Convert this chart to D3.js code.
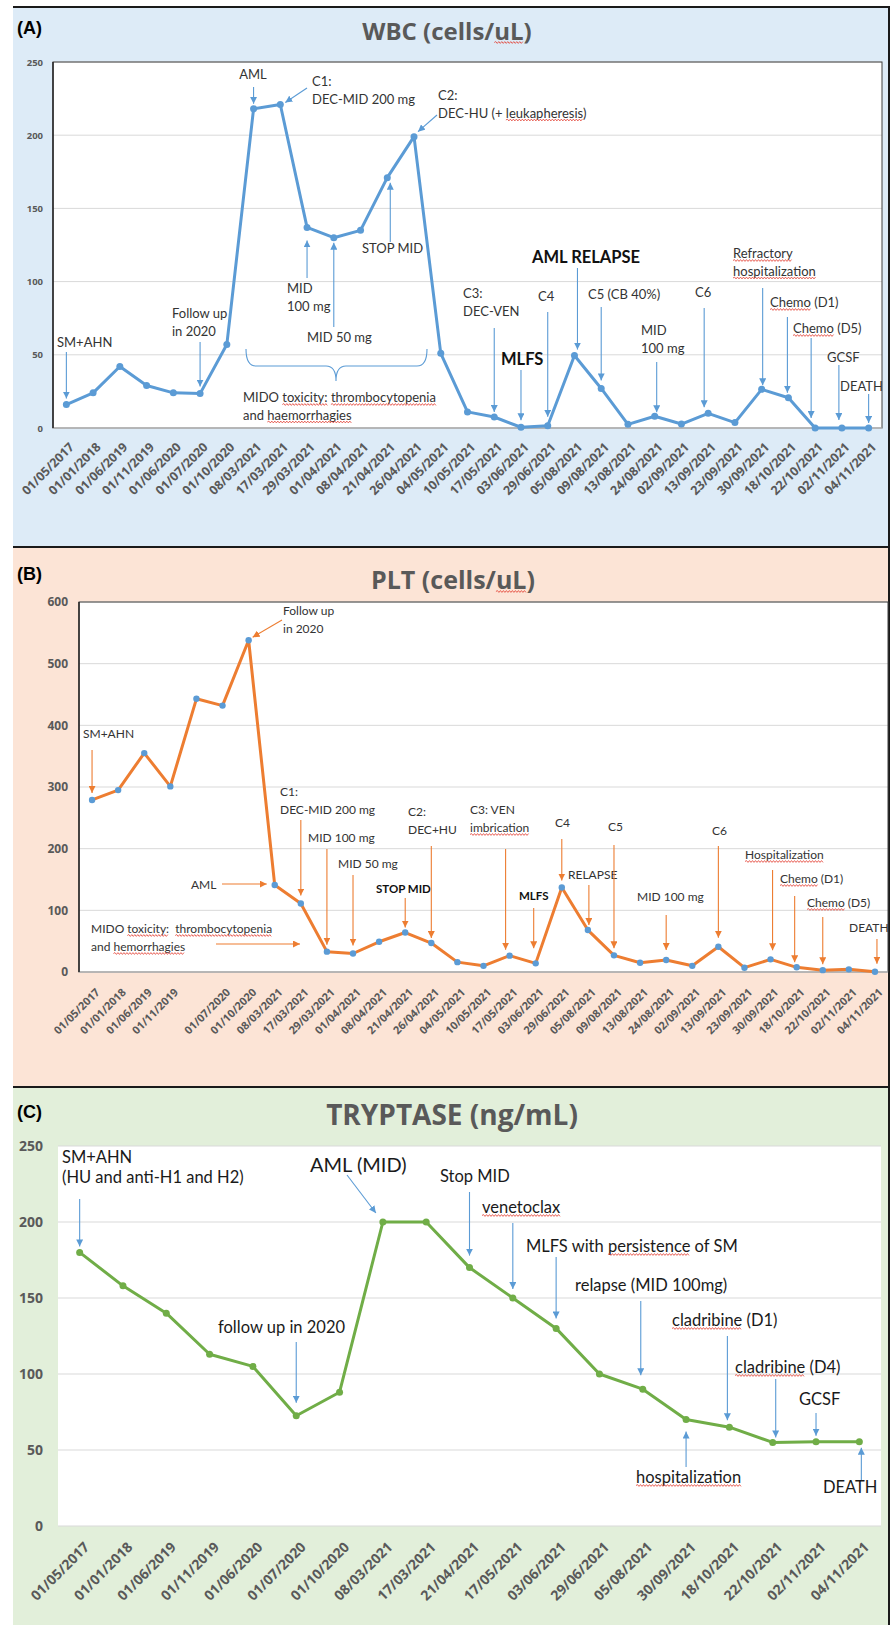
<!DOCTYPE html>
<html>
<head>
<meta charset="utf-8">
<script src="https://cdn.jsdelivr.net/npm/d3@7"></script>
<style>
body{margin:0;background:#fff}
svg{display:block}
text{font-family:Lato, "Open Sans", sans-serif}
</style>
</head>
<body>
<svg id="chart" width="894" height="1625"></svg>
<script>
// ---------- data ----------
var wbcDates = ['01/05/2017','01/01/2018','01/06/2019','01/11/2019','01/06/2020','01/07/2020','01/10/2020','08/03/2021','17/03/2021','29/03/2021','01/04/2021','08/04/2021','21/04/2021','26/04/2021','04/05/2021','10/05/2021','17/05/2021','03/06/2021','29/06/2021','05/08/2021','09/08/2021','13/08/2021','24/08/2021','02/09/2021','13/09/2021','23/09/2021','30/09/2021','18/10/2021','22/10/2021','02/11/2021','04/11/2021'];
var wbcValues = [16,24,42,29,24,23.5,57,218,221,137,130,135,171,199,51,11,7.5,0.5,1.5,49.5,27,2.5,8,2.7,10,3.7,26.4,20.7,0,0,0];
var wbcTicks = [0,50,100,150,200,250];

var pltDates = ['01/05/2017','01/01/2018','01/06/2019','01/11/2019','','01/07/2020','01/10/2020','08/03/2021','17/03/2021','29/03/2021','01/04/2021','08/04/2021','21/04/2021','26/04/2021','04/05/2021','10/05/2021','17/05/2021','03/06/2021','29/06/2021','05/08/2021','09/08/2021','13/08/2021','24/08/2021','02/09/2021','13/09/2021','23/09/2021','30/09/2021','18/10/2021','22/10/2021','02/11/2021','04/11/2021'];
var pltValues = [279,295,355,301,443,432,538,141,111,33,30,49,64,47,16,10,26.5,14,137,68,27,15,19.5,10,41,7,20.5,7.6,3,4.3,0.5];
var pltTicks = [0,100,200,300,400,500,600];

var tryDates = ['01/05/2017','01/01/2018','01/06/2019','01/11/2019','01/06/2020','01/07/2020','01/10/2020','08/03/2021','17/03/2021','21/04/2021','17/05/2021','03/06/2021','29/06/2021','05/08/2021','30/09/2021','18/10/2021','22/10/2021','02/11/2021','04/11/2021'];
var tryValues = [180,158,140,113,105,72.5,88,200,200,170,150,130,100,90,70,65,55,55.5,55.5];
var tryTicks = [0,50,100,150,200,250];

// ---------- annotations ----------
var wbcNotes = [
	{lines:['SM+AHN'], pos:[57,347], at:0, dy:-6, from:352},
	{lines:['Follow up','in 2020'], pos:[172,318], at:5, dy:-7, from:342},
	{lines:['AML'], pos:[253,79], anchor:'middle', at:7, dy:-5, from:87},
	{lines:['C1:','DEC-MID 200 mg'], pos:[312,86], at:8, dx:5, dy:-2, from:[307,88]},
	{lines:['C2:','DEC-HU (+ leukapheresis)'], pos:[438,100], wavy:['leukapheresis'], at:13, dx:4, dy:-5, from:[437,115]},
	{lines:['STOP MID'], pos:[362,253], at:12, dx:3, dy:5, from:242},
	{lines:['MID','100 mg'], pos:[287,293], at:9, dy:13, from:278},
	{lines:['MID 50 mg'], pos:[307,342], at:10, dy:5, from:327},
	{lines:['MIDO toxicity: thrombocytopenia','and haemorrhagies'], pos:[243,402], wavy:['toxicity:','thrombocytopenia','haemorrhagies']},
	{lines:['C3:','DEC-VEN'], pos:[463,298], at:16, dy:-5, from:328},
	{lines:['MLFS'], pos:[501,365], bold:true, size:16.5, at:17, dy:-7, from:370},
	{lines:['C4'], pos:[538,301], at:18, dy:-9, from:312},
	{lines:['AML RELAPSE'], pos:[532,263], bold:true, size:16.5, at:19, dx:3, dy:-6, from:268},
	{lines:['C5 (CB 40%)'], pos:[588,299], at:20, dy:-8, from:307},
	{lines:['MID','100 mg'], pos:[641,335], at:22, dx:2, dy:-4, from:362},
	{lines:['C6'], pos:[695,297], at:24, dx:-4, dy:-6, from:308},
	{lines:['Refractory','hospitalization'], pos:[733,258], wavy:['Refractory','hospitalization'], at:26, dx:1, dy:-4, from:288},
	{lines:['Chemo (D1)'], pos:[770,307], wavy:['Chemo'], at:27, dx:-1, dy:-5, from:317},
	{lines:['Chemo (D5)'], pos:[793,333], wavy:['Chemo'], at:28, dx:-4, dy:-10, from:338},
	{lines:['GCSF'], pos:[827,362], at:29, dx:-3, dy:-8, from:365},
	{lines:['DEATH'], pos:[840,391], at:30, dy:-5, from:394}
];

var pltNotes = [
	{lines:['SM+AHN'], pos:[83,738], at:0, dy:-7, from:750},
	{lines:['Follow up','in 2020'], pos:[283,615], at:6, dx:4, dy:-3, from:[282,620]},
	{lines:['AML'], pos:[191,889], at:7, dx:-8, dy:-1, from:[222,884]},
	{lines:['C1:','DEC-MID 200 mg'], pos:[280,796], at:8, dy:-8, from:820},
	{lines:['MID 100 mg'], pos:[308,842], at:9, dy:-7, from:849},
	{lines:['MID 50 mg'], pos:[338,868], at:10, dy:-8, from:875},
	{lines:['STOP MID'], pos:[376,893], bold:true, size:11.5, at:12, dy:-5, from:898},
	{lines:['C2:','DEC+HU'], pos:[408,816], at:13, dy:-5, from:846},
	{lines:['MIDO toxicity:  thrombocytopenia','and hemorrhagies'], pos:[91,933], wavy:['toxicity:','thrombocytopenia','hemorrhagies'], from:[216,944], to:[300,944]},
	{lines:['C3: VEN','imbrication'], pos:[470,814], wavy:['imbrication'], at:16, dx:-4, dy:-6, from:849},
	{lines:['MLFS'], pos:[519,900], bold:true, size:11.5, at:17, dx:-2, dy:-15, from:908},
	{lines:['C4'], pos:[555,827], at:18, dy:-7, from:839},
	{lines:['RELAPSE'], pos:[568,879], at:19, dx:1, dy:-5, from:885},
	{lines:['C5'], pos:[608,831], at:20, dy:-7, from:845},
	{lines:['MID 100 mg'], pos:[637,901], at:22, dy:-10, from:915},
	{lines:['C6'], pos:[712,835], at:24, dy:-9, from:846},
	{lines:['Hospitalization'], pos:[745,859], wavy:['Hospitalization'], at:26, dx:2, dy:-9, from:870},
	{lines:['Chemo (D1)'], pos:[780,883], wavy:['Chemo'], at:27, dx:-2, dy:-5, from:896},
	{lines:['Chemo (D5)'], pos:[807,907], wavy:['Chemo'], at:28, dy:-6, from:917},
	{lines:['DEATH'], pos:[849,932], at:30, dx:2, dy:-8, from:939}
];

var tryNotes = [
	{lines:['SM+AHN','(HU and anti-H1 and H2)'], pos:[62,1163], at:0, dy:-6, from:1199},
	{lines:['AML (MID)'], pos:[310,1172], size:20, at:7, dx:-7, dy:-9, from:[347,1175]},
	{lines:['follow up in 2020'], pos:[218,1333], at:5, dy:-13, from:1342},
	{lines:['Stop MID'], pos:[440,1182], at:9, dy:-12, from:1192},
	{lines:['venetoclax'], pos:[482,1213], wavy:['venetoclax'], at:10, dy:-9, from:1223},
	{lines:['MLFS with persistence of SM'], pos:[526,1252], wavy:['persistence'], at:11, dy:-10, from:1257},
	{lines:['relapse (MID 100mg)'], pos:[575,1291], at:13, dx:-2, dy:-14, from:1301},
	{lines:['cladribine (D1)'], pos:[672,1326], wavy:['cladribine'], at:15, dx:-2, dy:-7, from:1336},
	{lines:['cladribine (D4)'], pos:[735,1373], wavy:['cladribine'], at:16, dx:3, dy:-5, from:1379},
	{lines:['GCSF'], pos:[799,1405], at:17, dy:-6, from:1413},
	{lines:['hospitalization'], pos:[636,1483], wavy:['hospitalization'], at:14, dy:12, from:1467},
	{lines:['DEATH'], pos:[823,1493], at:18, dx:2, dy:6, from:1480}
];

// ---------- panels ----------
var panels = [
	{label:'(A)', labelY:34, title:'WBC (cells/uL)', titleWavy:'uL', titleX:447, titleY:40, titleSize:24,
	 top:7, bottom:547, bg:'#ddebf7', plot:{l:53,t:62,r:882,b:428}, border:'#404040',
	 dates:wbcDates, values:wbcValues, ticks:wbcTicks, yTickSize:9.5, yPad:10, xTickSize:12.5, xOff:[8,20],
	 line:'#5b9bd5', dot:'#5b9bd5', dotR:3.5, arrow:'#5b9bd5', notes:wbcNotes, noteSize:13, noteLh:17.5, noteColor:'#333'},
	{label:'(B)', labelY:580, title:'PLT (cells/uL)', titleWavy:'uL', titleX:453, titleY:589, titleSize:25,
	 top:547, bottom:1087, bg:'#fce4d6', plot:{l:79,t:602,r:888,b:972}, border:'#404040',
	 dates:pltDates, values:pltValues, ticks:pltTicks, yTickSize:12, yPad:11, xTickSize:11, xOff:[8,21],
	 line:'#ed7d31', dot:'#5b9bd5', dotR:3.2, arrow:'#ed7d31', notes:pltNotes, noteSize:12, noteLh:18, noteColor:'#333'},
	{label:'(C)', labelY:1118, title:'TRYPTASE (ng/mL)', titleX:452, titleY:1125, titleSize:28,
	 top:1087, bottom:1625, bg:'#e2efda', plot:{l:58,t:1146,r:881,b:1526}, border:'none',
	 dates:tryDates, values:tryValues, ticks:tryTicks, yTickSize:14, yPad:15, xTickSize:14, xOff:[10,22],
	 line:'#70ad47', dot:'#70ad47', dotR:3.5, arrow:'#5b9bd5', notes:tryNotes, noteSize:16.5, noteLh:20, noteColor:'#1a1a1a'}
];

var svg = d3.select('#chart');
var defs = svg.append('defs');

function markerFor(color){
	var id = 'arr' + color.replace('#','');
	if (defs.select('#' + id).empty()) {
		defs.append('marker')
			.attr('id', id)
			.attr('viewBox','0 0 10 10')
			.attr('refX', 10)
			.attr('refY', 5)
			.attr('markerWidth', 7)
			.attr('markerHeight', 7)
			.attr('markerUnits','userSpaceOnUse')
			.attr('orient','auto')
			.append('path')
			.attr('d','M0,0L10,5L0,10z')
			.attr('fill', color);
	}
	return 'url(#' + id + ')';
}

// red spell-check squiggle under a word of a text node
function squiggle(g, textSel, word){
	var node = textSel.node();
	var s = node.textContent;
	var i = s.indexOf(word);
	if (i < 0) return;
	var x0 = node.getStartPositionOfChar(i).x;
	var x1 = node.getEndPositionOfChar(i + word.length - 1).x;
	var yb = +textSel.attr('y') + 2.5;
	var d = 'M' + x0 + ',' + yb;
	var up = true;
	for (var x = x0 + 1.5; x <= x1; x += 1.5) {
		d += 'L' + x + ',' + (yb + (up ? -0.9 : 0.9));
		up = !up;
	}
	g.append('path').attr('d', d).attr('fill','none').attr('stroke','#e23b2e').attr('stroke-width',0.8);
}

function drawPanel(p){
	var g = svg.append('g');

	g.append('rect')
		.attr('x',13).attr('y',p.top)
		.attr('width',877).attr('height',p.bottom - p.top)
		.attr('fill',p.bg);
	g.append('path')
		.attr('d','M13,' + p.top + 'H889V' + p.bottom)
		.attr('fill','none')
		.attr('stroke','#1a1a1a')
		.attr('stroke-width',2);

	g.append('text')
		.attr('x',17).attr('y',p.labelY)
		.style('font-family','"Liberation Sans", Arial, sans-serif')
		.style('font-weight','bold')
		.style('font-size','18px')
		.text(p.label);

	var title = g.append('text')
		.attr('x',p.titleX).attr('y',p.titleY)
		.attr('text-anchor','middle')
		.style('font-family','"Open Sans", sans-serif')
		.style('font-weight','bold')
		.style('font-size',p.titleSize + 'px')
		.style('fill','#595959')
		.text(p.title);
	if (p.titleWavy) squiggle(g, title, p.titleWavy);

	var x = d3.scalePoint()
		.domain(d3.range(p.dates.length))
		.range([p.plot.l, p.plot.r])
		.padding(0.5);
	var y = d3.scaleLinear()
		.domain([0, d3.max(p.ticks)])
		.range([p.plot.b, p.plot.t]);

	g.append('rect')
		.attr('x',p.plot.l).attr('y',p.plot.t)
		.attr('width',p.plot.r - p.plot.l).attr('height',p.plot.b - p.plot.t)
		.attr('fill','#fff');

	g.selectAll('.grid')
		.data(p.ticks)
		.enter()
		.append('line')
		.attr('x1',p.plot.l).attr('x2',p.plot.r)
		.attr('y1',function(d){ return y(d) })
		.attr('y2',function(d){ return y(d) })
		.attr('stroke','#d9d9d9')
		.attr('stroke-width',1);

	if (p.border != 'none') {
		g.append('rect')
			.attr('x',p.plot.l).attr('y',p.plot.t)
			.attr('width',p.plot.r - p.plot.l).attr('height',p.plot.b - p.plot.t)
			.attr('fill','none')
			.attr('stroke',p.border)
			.attr('stroke-width',1);
		g.append('line')
			.attr('x1',p.plot.l).attr('x2',p.plot.r)
			.attr('y1',p.plot.b).attr('y2',p.plot.b)
			.attr('stroke','#d9d9d9');
		g.append('line')
			.attr('x1',p.plot.l).attr('x2',p.plot.l)
			.attr('y1',p.plot.t).attr('y2',p.plot.b)
			.attr('stroke','#262626')
			.attr('stroke-width',1.5);
	}

	var yAxis = g.append('g')
		.attr('transform','translate(' + p.plot.l + ',0)')
		.call(d3.axisLeft(y).tickValues(p.ticks).tickSize(0).tickPadding(p.yPad));
	yAxis.select('.domain').remove();
	yAxis.selectAll('text')
		.style('font-family','"Open Sans", sans-serif')
		.style('font-weight','bold')
		.style('font-size',p.yTickSize + 'px')
		.style('fill','#595959');

	var xAxis = g.append('g')
		.attr('transform','translate(0,' + p.plot.b + ')')
		.call(d3.axisBottom(x).tickSize(0).tickFormat(function(i){ return p.dates[i] }));
	xAxis.select('.domain').remove();
	xAxis.selectAll('text')
		.attr('x',0).attr('y',0).attr('dy',0)
		.attr('text-anchor','end')
		.attr('transform','translate(' + p.xOff[0] + ',' + p.xOff[1] + ') rotate(-45)')
		.style('font-family','"Open Sans", sans-serif')
		.style('font-weight','bold')
		.style('font-size',p.xTickSize + 'px')
		.style('fill','#595959');

	var lineGen = d3.line()
		.x(function(d,i){ return x(i) })
		.y(function(d){ return y(d) });
	g.append('path')
		.datum(p.values)
		.attr('d',lineGen)
		.attr('fill','none')
		.attr('stroke',p.line)
		.attr('stroke-width',3)
		.attr('stroke-linejoin','round');
	g.selectAll('.dot')
		.data(p.values)
		.enter()
		.append('circle')
		.attr('cx',function(d,i){ return x(i) })
		.attr('cy',function(d){ return y(d) })
		.attr('r',p.dotR)
		.attr('fill',p.dot);

	// brace for the MIDO toxicity window (panel A only)
	if (p.label == '(A)') {
		g.append('path')
			.attr('d','M246,349Q246,366 256,366L326,366Q336,366 336,381Q336,366 346,366L417,366Q427,366 427,349')
			.attr('fill','none')
			.attr('stroke','#5b9bd5')
			.attr('stroke-width',1.1);
	}

	var mk = markerFor(p.arrow);
	p.notes.forEach(function(n){
		var size = n.size || p.noteSize;
		n.lines.forEach(function(s, k){
			var t = g.append('text')
				.attr('x',n.pos[0])
				.attr('y',n.pos[1] + k * p.noteLh)
				.attr('text-anchor',n.anchor || 'start')
				.style('font-size',size + 'px')
				.style('font-weight',n.bold ? 'bold' : 'normal')
				.style('fill',n.bold ? '#111' : p.noteColor)
				.style('white-space','pre')
				.text(s);
			(n.wavy || []).forEach(function(w){ squiggle(g, t, w) });
		});
		if (n.from === undefined) return;
		var tx, ty;
		if (n.to) { tx = n.to[0]; ty = n.to[1]; }
		else { tx = x(n.at) + (n.dx || 0); ty = y(p.values[n.at]) + (n.dy || 0); }
		var fx = Array.isArray(n.from) ? n.from[0] : tx;
		var fy = Array.isArray(n.from) ? n.from[1] : n.from;
		g.append('line')
			.attr('x1',fx).attr('y1',fy)
			.attr('x2',tx).attr('y2',ty)
			.attr('stroke',p.arrow)
			.attr('stroke-width',1.1)
			.attr('marker-end',mk);
	});
}

panels.forEach(drawPanel);
</script>
</body>
</html>
